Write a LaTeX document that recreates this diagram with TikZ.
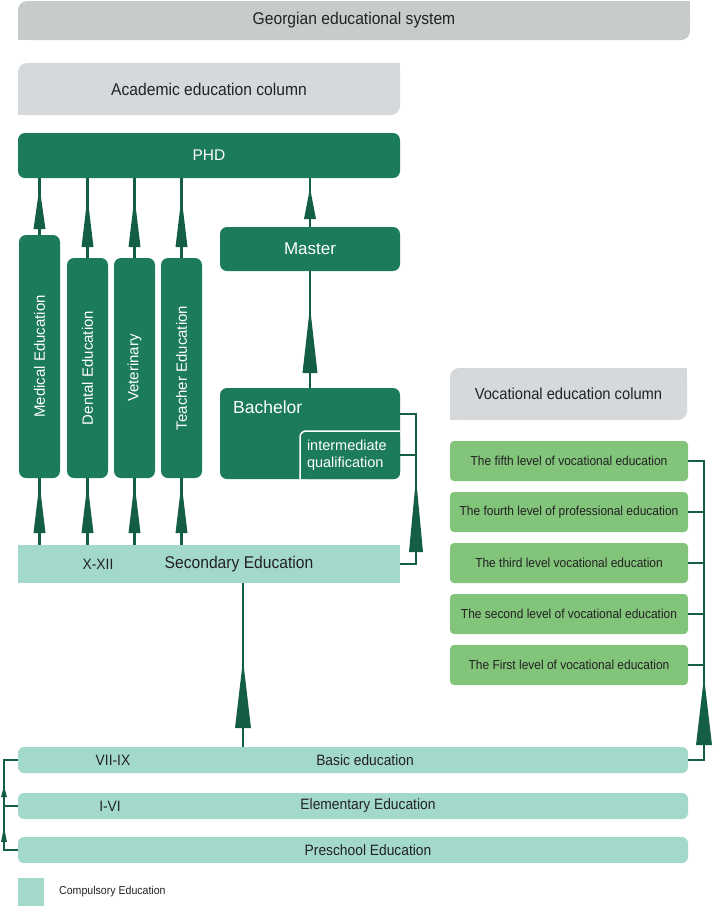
\documentclass[tikz,border=0pt]{standalone}
\usepackage{fontspec}
\setmainfont{Liberation Sans}
\newfontfamily\narrowfont[FakeStretch=0.92]{Liberation Sans}
\usepackage{graphicx}
\usetikzlibrary{positioning}
\usetikzlibrary{decorations.markings}

\definecolor{headgray}{HTML}{C6CCCC}
\definecolor{colgray}{HTML}{D5D9DC}
\definecolor{boxgreen}{HTML}{1C7A5D}
\definecolor{linegreen}{HTML}{145E48}
\definecolor{mint}{HTML}{A3D9CB}
\definecolor{vocgreen}{HTML}{82C47A}
\definecolor{inktext}{HTML}{222222}

\tikzset{uptip/.style n args={3}{postaction={decorate, decoration={markings,
	mark=at position #1pt with {\fill[linegreen] (0,-#3/2) -- (#2,0) -- (0,#3/2) -- cycle;}}}}}

\begin{document}
\begin{tikzpicture}[x=1pt, y=-1pt]

\useasboundingbox (0,0) rectangle (713,906);

\def\ColWidth{382pt}
\def\FullWidth{670pt}
\def\LaneWidth{41pt}
\def\LaneHeight{220pt}

% Styles
\tikzstyle{box} =
	[anchor=north west, inner sep=0pt, outer sep=0pt]

\tikzstyle{title box} =
	[box, fill=colgray, text=inktext, rounded corners=9pt, font=\narrowfont\fontsize{17}{20}\selectfont]

\tikzstyle{degree} =
	[box, fill=boxgreen, text=white, rounded corners=7pt]

\tikzstyle{lane} =
	[degree, minimum width=\LaneWidth, minimum height=\LaneHeight, font=\fontsize{15}{18}\selectfont]

\tikzstyle{school} =
	[box, fill=mint, minimum width=\FullWidth, minimum height=26pt, rounded corners=6pt]

\tikzstyle{level} =
	[box, fill=vocgreen, text=inktext, rounded corners=4pt, minimum width=238pt, minimum height=40pt, font=\narrowfont\fontsize{13}{15}\selectfont]

\tikzstyle{caption} =
	[inner sep=0pt, text=inktext, font=\narrowfont\fontsize{15}{18}\selectfont]

\tikzstyle{link} =
	[draw=linegreen, line width=2.8pt]

\tikzstyle{thin link} =
	[draw=linegreen, line width=2.4pt]

% Headings

\node (System) at (18,1)
	[title box, fill=headgray, minimum width=672pt, minimum height=39pt]
	{Georgian educational system};
\fill[headgray] (System.north east) rectangle ++(-12,12);
\fill[headgray] (System.south west) rectangle ++(12,-12);

\node (Academic) at (18,63)
	[title box, minimum width=\ColWidth, minimum height=52pt]
	{Academic education column};
\fill[colgray] (Academic.north east) rectangle ++(-12,12);
\fill[colgray] (Academic.south west) rectangle ++(12,-12);

\node (Vocational) at (450,368)
	[title box, minimum width=237pt, minimum height=52pt, font=\narrowfont\fontsize{16}{19}\selectfont]
	{Vocational education column};
\fill[colgray] (Vocational.north east) rectangle ++(-12,12);
\fill[colgray] (Vocational.south west) rectangle ++(12,-12);

% Academic column

\node (PHD) at (18,133)
	[degree, minimum width=\ColWidth, minimum height=45pt, font=\fontsize{15.5}{18}\selectfont] {PHD};
\node (Master) at (220,227)
	[degree, minimum width=180pt, minimum height=44pt, font=\fontsize{17}{20}\selectfont] {Master};

\node (Medical) at (19,235) [lane, minimum height=243pt] {\rotatebox{90}{Medical Education}};
\node (Dental) [lane, right=7pt of Medical.south east, anchor=south west] {\rotatebox{90}{Dental Education}};
\node (Veterinary) [lane, right=6pt of Dental.south east, anchor=south west] {\rotatebox{90}{Veterinary}};
\node (Teacher) [lane, right=6pt of Veterinary.south east, anchor=south west] {\rotatebox{90}{Teacher Education}};

\node (Bachelor) at (220,388) [degree, minimum width=180pt, minimum height=91pt] {};
\node (BachelorName) at (233,413)
	[anchor=base west, inner sep=0pt, text=white, font=\fontsize{17.5}{20}\selectfont] {Bachelor};
\node (Interim) at (300,431)
	[degree, rounded corners=6pt, minimum width=100pt, minimum height=48pt,
	 text width=86pt, align=left, font=\fontsize{14.5}{17}\selectfont]
	{intermediate\\qualification};
\draw[white, line width=1.5pt, rounded corners=6pt]
	(Interim.south west) -- (Interim.north west) -- (Interim.north east);

\node (Secondary) at (18,545) [box, fill=mint, minimum width=\ColWidth, minimum height=38pt] {};
\node (SecGrades) at (98,564) [caption] {X-XII};
\node (SecName) at (239,564) [caption, font=\narrowfont\fontsize{17}{20}\selectfont] {Secondary Education};

% Vocational column

\node (Fifth) at (450,441) [level] {The fifth level of vocational education};
\node (Fourth) [level, below=11pt of Fifth] {The fourth level of professional education};
\node (Third) [level, below=11pt of Fourth] {The third level vocational education};
\node (Second) [level, below=11pt of Third] {The second level of vocational education};
\node (First) [level, below=11pt of Second] {The First level of vocational education};

% General education

\node (Basic) at (18,747) [school] {};
\node (Elementary) [school, below=20pt of Basic] {};
\node (Preschool) [school, below=18pt of Elementary] {};

\node (BasicGrades) at (113,760) [caption] {VII-IX};
\node (BasicName) at (365,760) [caption] {Basic education};
\node (ElemGrades) at (110,806) [caption] {I-VI};
\node (ElemName) at (368,806) [caption] {Elementary Education};
\node (PreName) at (368,850) [caption] {Preschool Education};

\node (Key) at (18,878) [box, fill=mint, minimum width=26pt, minimum height=28pt] {};
\node (KeyName) [caption, font=\narrowfont\fontsize{11.5}{14}\selectfont, right=15pt of Key] {Compulsory Education};

% Edges

\coordinate (VocRail) at (704,0);
\coordinate (BachRail) at (416,0);
\coordinate (LeftRail) at (4,0);
\coordinate (BachIn) at (400,414);
\coordinate (BasicOut) at (243,747);

\draw[thin link, uptip={6}{42}{12}] (Medical.north) -- (Medical.north |- PHD.south);
\foreach \lane in {Dental,Veterinary,Teacher}
	\draw[thin link, uptip={11}{50}{12}] (\lane.north) -- (\lane.north |- PHD.south);
\draw[thin link, uptip={8}{31}{12}] (Master.north) -- (Master.north |- PHD.south);
\foreach \lane in {Medical,Dental,Veterinary,Teacher}
	\draw[thin link, uptip={12}{50}{12}] (Secondary.north -| \lane) -- (\lane.south);

\draw[link, uptip={15}{66}{15}] (Bachelor.north) -- (Master.south);
\draw[link, uptip={19}{68}{16}] (BasicOut) -- (BasicOut |- Secondary.south);

\draw[link, uptip={28}{74}{14}]
	(Secondary.east) -- (Secondary.east -| BachRail) -- (BachIn -| BachRail) -- (BachIn);
\draw[link] (Interim.east) -- (Interim.east -| BachRail);

\draw[link, uptip={31}{68}{16}]
	(Basic.east) -- (Basic.east -| VocRail) -- (Fifth.east -| VocRail) -- (Fifth.east);
\foreach \lvl in {Fourth,Third,Second,First}
	\draw[link] (\lvl.east) -- (\lvl.east -| VocRail);

\draw[link, uptip={22}{15}{6}, uptip={67}{11}{6}]
	(Preschool.west) -- (Preschool.west -| LeftRail) -- (Basic.west -| LeftRail) -- (Basic.west);
\draw[link] (Elementary.west) -- (Elementary.west -| LeftRail);

\end{tikzpicture}
\end{document}
